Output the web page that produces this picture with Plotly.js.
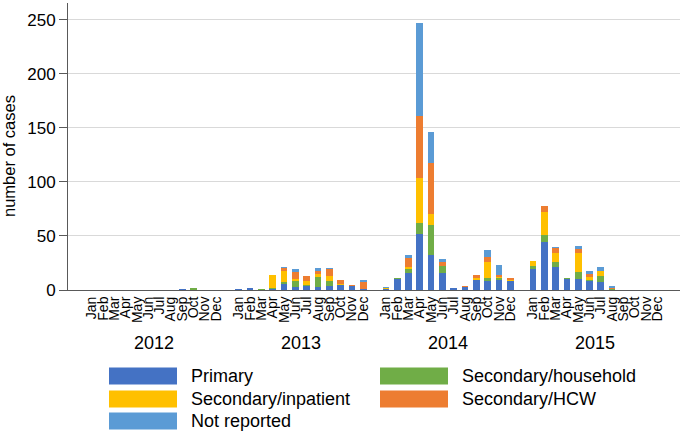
<!DOCTYPE html>
<html>
<head>
<meta charset="utf-8">
<script src="https://cdn.plot.ly/plotly-3.0.1.min.js"></script>
<style>
html,body{margin:0;padding:0;background:#fff;}
#chart{width:683px;height:431px;}
</style>
</head>
<body>
<div id="chart"></div>
<script>
// ---- data ----
var years = ["2012", "2013", "2014", "2015"];
var months = ["Jan","Feb","Mar","Apr","May","Jun","Jul","Aug","Sep","Oct","Nov","Dec"];
var seriesNames = ["Primary", "Secondary/household", "Secondary/inpatient", "Secondary/HCW", "Not reported"];
var seriesColors = ["#4472C4", "#70AD47", "#FFC000", "#ED7D31", "#5B9BD5"];

// values per month, Jan 2012 .. Dec 2015
var primary = [
  0,0,0,0,0,0,0,0,1,0,0,0,
  1,2,0,1,6,3,4,3,4,5,4,1,
  1,10,16,52,32,16,2,3,9,8,9,8,
  19,44,21,10,10,8,7,0,0,0,0,0
];
var household = [
  0,0,0,0,0,0,0,0,0,2,0,0,
  0,0,1,1,1,5,1,9,4,0,0,0,
  0,1,3,10,28,6,0,0,0,3,2,0,
  3,7,5,1,7,1,6,1,0,0,0,0
];
var inpatient = [
  0,0,0,0,0,0,0,0,0,0,0,0,
  0,0,0,12,11,2,3,3,5,1,0,0,
  1,0,2,42,10,0,0,0,2,15,1,1,
  5,21,8,0,17,3,5,0,0,0,0,0
];
var hcw = [
  0,0,0,0,0,0,0,0,0,0,0,0,
  0,0,0,0,2,7,5,3,6,3,1,6,
  0,0,9,57,48,4,0,1,3,5,2,2,
  0,6,5,0,4,3,0,1,0,0,0,0
];
var notReported = [
  0,0,0,0,0,0,0,0,0,0,0,0,
  0,0,0,0,1,2,0,2,1,0,0,2,
  1,0,2,86,28,3,0,0,0,6,9,0,
  0,0,1,0,3,3,3,2,0,0,0,0
];
var yTicks = [0, 50, 100, 150, 200, 250];
var yTitle = "number of cases";

// ---- build ----
var seriesValues = [primary, household, inpatient, hcw, notReported];
var slots = [], tickText = [];
for (var k = 0; k < years.length; k++) {
  for (var m = 0; m < 12; m++) {
    slots.push(k * 13 + m);      // one empty slot between years
    tickText.push(months[m]);
  }
}

var FONT = "Liberation Sans, Arial, sans-serif";
var traces = seriesNames.map(function (name, i) {
  return {
    type: "bar",
    name: name,
    x: slots,
    y: seriesValues[i],
    marker: { color: seriesColors[i], line: { width: 0 } },
    hoverinfo: "x+y+name"
  };
});

var plotL = 68, plotR = 680, plotT = 3, plotB = 290;
var pw = plotR - plotL, ph = plotB - plotT;
function px2x(px) { return (px - plotL) / pw; }
function py2y(py) { return (plotB - py) / ph; }

var annotations = [];
var shapes = [];
years.forEach(function (yr, k) {
  annotations.push({
    xref: "x", yref: "paper", x: k * 13 + 5.5, y: py2y(343),
    text: yr, showarrow: false, xanchor: "center", yanchor: "middle",
    font: { family: FONT, size: 18, color: "#000" }
  });
});

// y axis title
annotations.push({
  xref: "paper", yref: "paper", x: px2x(9), y: py2y(156),
  text: yTitle, textangle: -90, showarrow: false,
  xanchor: "center", yanchor: "middle",
  font: { family: FONT, size: 16.5, color: "#000" }
});

// legend drawn manually (wide swatches)
var legendPos = [
  { col: 0, row: 0 }, { col: 1, row: 0 }, { col: 0, row: 1 }, { col: 1, row: 1 }, { col: 0, row: 2 }
];
var colSwatchX = [109, 380];
var swatchW = 68, swatchH = 17;
var colTextX = [189, 460];
var rowY = [376, 399, 421];
seriesNames.forEach(function (name, i) {
  var p = legendPos[i];
  var sx = colSwatchX[p.col], cy = rowY[p.row];
  shapes.push({
    type: "rect", xref: "paper", yref: "paper",
    x0: px2x(sx), x1: px2x(sx + swatchW), y0: py2y(cy + swatchH / 2), y1: py2y(cy - swatchH / 2),
    fillcolor: seriesColors[i], line: { width: 0 }
  });
  annotations.push({
    xref: "paper", yref: "paper", x: px2x(colTextX[p.col]), y: py2y(cy),
    text: name, showarrow: false, xanchor: "left", yanchor: "middle",
    font: { family: FONT, size: 18, color: "#000" }
  });
});

var layout = {
  width: 683, height: 431,
  margin: { l: plotL, r: 683 - plotR, t: plotT, b: 431 - plotB, pad: 0 },
  paper_bgcolor: "#fff", plot_bgcolor: "#fff",
  barmode: "stack",
  bargap: 0.41,
  showlegend: false,
  font: { family: FONT, color: "#000" },
  xaxis: {
    range: [-2.1, 52],
    tickmode: "array", tickvals: slots, ticktext: tickText,
    tickangle: -90,
    tickfont: { family: FONT, size: 14, color: "#000" },
    showgrid: false, zeroline: false,
    showline: true, linecolor: "#595959", linewidth: 1,
    ticks: "", automargin: false, fixedrange: true
  },
  yaxis: {
    range: [0, 265.7],
    tickmode: "array", tickvals: yTicks,
    tickfont: { family: FONT, size: 17, color: "#000" },
    showgrid: true, gridcolor: "#d9d9d9", gridwidth: 1,
    zeroline: false,
    showline: true, linecolor: "#595959", linewidth: 1,
    ticks: "outside", ticklen: 8, tickcolor: "#595959",
    automargin: false, fixedrange: true
  },
  annotations: annotations,
  shapes: shapes
};

Plotly.newPlot("chart", traces, layout, { displayModeBar: false, staticPlot: true });
</script>
</body>
</html>
